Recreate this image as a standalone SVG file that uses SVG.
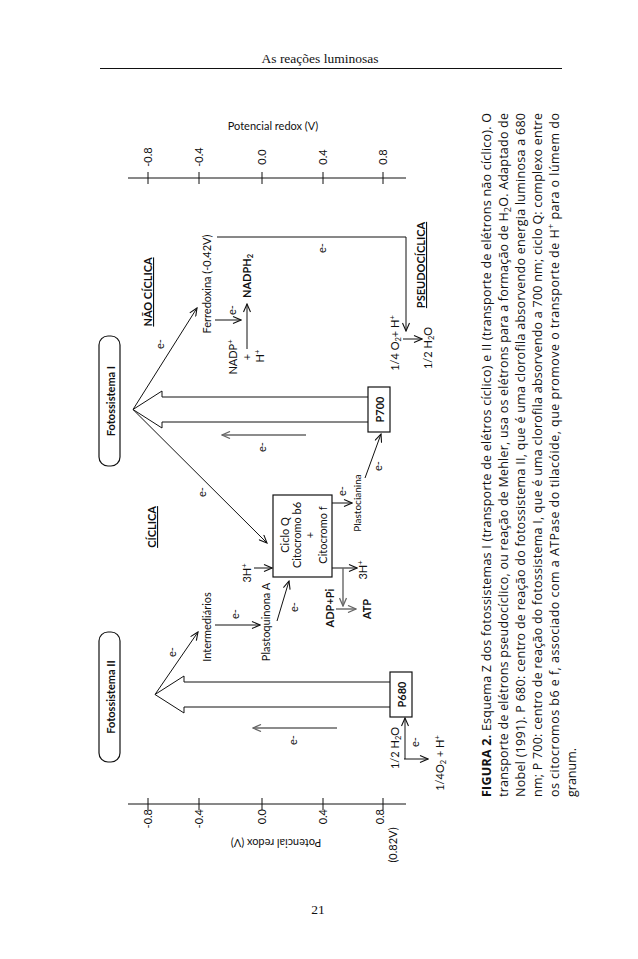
<svg xmlns="http://www.w3.org/2000/svg" width="638" height="959" viewBox="0 0 638 959">
<defs>
<marker id="ah" markerUnits="userSpaceOnUse" markerWidth="10" markerHeight="8" refX="9" refY="4" orient="auto">
<path d="M1,0.5 L9,4 L1,7.5" fill="none" stroke="#111" stroke-width="1.1"/>
</marker>
<marker id="ahg" markerUnits="userSpaceOnUse" markerWidth="10" markerHeight="8" refX="9" refY="4" orient="auto">
<path d="M1,0.5 L9,4 L1,7.5" fill="none" stroke="#666" stroke-width="1.3"/>
</marker>
</defs>
<style>
.t{font-family:Lato,"Open Sans","Liberation Sans",sans-serif;font-size:11px;fill:#111}
.b{font-weight:bold}
.u{text-decoration:underline}
.ln{stroke:#111;stroke-width:1;fill:none}
.g{stroke:#666;stroke-width:1.4;fill:none}
.box{fill:#fff;stroke:#111;stroke-width:1.2}
.cap{font-family:"Open Sans",Lato,"Liberation Sans",sans-serif;font-size:12.5px;fill:#111}
.serif{font-family:"Liberation Serif",serif;font-size:13.5px;fill:#111}
.sm{font-size:7.5px}
</style>
<rect width="638" height="959" fill="#fff"/>

<g id="header">
<text class="serif" x="320" y="63" text-anchor="middle">As reações luminosas</text>
<line x1="100" y1="68.5" x2="562" y2="68.5" stroke="#111" stroke-width="1.2"/>
<text class="serif" x="318" y="914" text-anchor="middle">21</text>
</g>

<g id="axis-top">
<line class="ln" x1="128" y1="178" x2="406" y2="178"/>
<path class="ln" d="M148,172V184M199,172V184M262,172V184M323,172V184M383,172V184"/>
<g class="t" text-anchor="middle">
<text transform="translate(151.5,157) rotate(-90)">-0.8</text>
<text transform="translate(202.5,157) rotate(-90)">-0.4</text>
<text transform="translate(265.5,157) rotate(-90)">0.0</text>
<text transform="translate(326.5,157) rotate(-90)">0.4</text>
<text transform="translate(386.5,157) rotate(-90)">0.8</text>
<text x="273" y="130">Potencial redox (V)</text>
</g>
</g>

<g id="axis-bottom">
<line class="ln" x1="128" y1="804" x2="406" y2="804"/>
<path class="ln" d="M148,798V810M199,798V810M262,798V810M323,798V810M383,798V810"/>
<g class="t" text-anchor="end">
<text transform="translate(151.5,809) rotate(-90)">-0.8</text>
<text transform="translate(202.5,809) rotate(-90)">-0.4</text>
<text transform="translate(265.5,809) rotate(-90)">0.0</text>
<text transform="translate(326.5,809) rotate(-90)">0.4</text>
<text transform="translate(383.5,809) rotate(-90)">0.8</text>
</g>
<text class="t" text-anchor="middle" transform="translate(397,845) rotate(-90)">(0.82V)</text>
<text class="t" text-anchor="middle" transform="translate(276,839) rotate(180)">Potencial redox (V)</text>
</g>

<g id="labels" class="t" text-anchor="middle">
<text class="b u" transform="translate(152,292) rotate(-90)">NÃO CÍCLICA</text>
<text class="b u" transform="translate(156,527) rotate(-90)">CÍCLICA</text>
<text class="b u" transform="translate(425,265) rotate(-90)">PSEUDOCÍCLICA</text>
</g>

<g id="fotossistema-1">
<rect class="box" x="99" y="336" width="21" height="130" rx="9"/>
<text class="t b" font-size="14" text-anchor="middle" transform="translate(114.5,401) rotate(-90)">Fotossistema I</text>
<path class="ln" d="M368,397 L162,397 L162,391 L133,409.5 L162,428 L162,422 L368,422"/>
</g>
<g id="p700">
<rect class="box" x="368" y="387" width="22" height="45"/>
<text class="t b" font-size="13.5" text-anchor="middle" transform="translate(383.7,409.5) rotate(-90)">P700</text>
</g>

<g id="fotossistema-2">
<rect class="box" x="99" y="632" width="21" height="130" rx="9"/>
<text class="t b" font-size="14" text-anchor="middle" transform="translate(114.5,697) rotate(-90)">Fotossistema II</text>
<path class="ln" d="M390,682 L184,682 L184,676 L155,694.5 L184,713 L184,707 L390,707"/>
</g>
<g id="p680">
<rect class="box" x="390" y="672" width="22" height="45"/>
<text class="t b" font-size="13.5" text-anchor="middle" transform="translate(405.7,694.5) rotate(-90)">P680</text>
</g>

<g id="ciclo-q">
<rect class="box" x="273" y="495" width="59" height="82"/>
<g class="t" text-anchor="middle">
<text transform="translate(288.8,535) rotate(-90)">Ciclo Q</text>
<text transform="translate(300.8,535) rotate(-90)">Citocromo b6</text>
<text transform="translate(313.8,535) rotate(-90)">+</text>
<text transform="translate(326.8,535) rotate(-90)">Citocromo f</text>
</g>
</g>

<g id="ferredoxina" class="t" text-anchor="middle">
<text transform="translate(210.8,284) rotate(-90)">Ferredoxina (-0.42V)</text>
</g>
<g id="nadp" class="t" text-anchor="middle">
<text transform="translate(236.8,357) rotate(-90)">NADP<tspan class="sm" dy="-4">+</tspan></text>
<text transform="translate(250.8,357) rotate(-90)">+</text>
<text transform="translate(263.8,356) rotate(-90)">H<tspan class="sm" dy="-4">+</tspan></text>
<text class="b" transform="translate(251.3,276) rotate(-90)">NADPH<tspan class="sm" dy="2">2</tspan></text>
</g>
<g id="oxigenio" class="t" text-anchor="middle">
<text transform="translate(399,343) rotate(-90)">1/4 O<tspan class="sm" dy="2">2</tspan><tspan dy="-2">+ H</tspan><tspan class="sm" dy="-4">+</tspan></text>
<text transform="translate(432,348) rotate(-90)">1/2 H<tspan class="sm" dy="2">2</tspan><tspan dy="-2">O</tspan></text>
</g>
<g id="intermediarios" class="t" text-anchor="middle">
<text transform="translate(210.8,627) rotate(-90)">Intermediários</text>
</g>
<g id="plastoquinona" class="t" text-anchor="middle">
<text transform="translate(269.8,622) rotate(-90)">Plastoquinona A</text>
</g>
<g id="plastocianina" class="t" text-anchor="middle">
<text font-size="10" transform="translate(361,503) rotate(-90)">Plastocianina</text>
</g>
<g id="protons" class="t" text-anchor="middle">
<text transform="translate(250.8,573) rotate(-90)">3H<tspan class="sm" dy="-4">+</tspan></text>
<text transform="translate(366.5,570) rotate(-90)">3H<tspan class="sm" dy="-4">+</tspan></text>
</g>
<g id="atp" class="t b" text-anchor="middle">
<text transform="translate(333.8,608) rotate(-90)">ADP+Pi</text>
<text transform="translate(371,609) rotate(-90)">ATP</text>
</g>
<g id="agua" class="t" text-anchor="middle">
<text transform="translate(398.8,748) rotate(-90)">1/2 H<tspan class="sm" dy="2">2</tspan><tspan dy="-2">O</tspan></text>
<text transform="translate(443.8,763) rotate(-90)">1/4O<tspan class="sm" dy="2">2</tspan><tspan dy="-2"> + H</tspan><tspan class="sm" dy="-4">+</tspan></text>
</g>

<g id="connectors">
<line class="ln" x1="133" y1="409.5" x2="197" y2="308" marker-end="url(#ah)"/>
<line class="ln" x1="133" y1="409.5" x2="267" y2="543" marker-end="url(#ah)"/>
<line class="g" x1="306" y1="435" x2="222" y2="435" marker-end="url(#ahg)"/>
<polyline class="ln" points="217,237 406,237 406,331" marker-end="url(#ah)"/>
<line class="ln" x1="403" y1="339" x2="422" y2="339" marker-end="url(#ah)"/>
<line class="ln" x1="215" y1="320" x2="241" y2="320" marker-end="url(#ah)"/>
<line class="ln" x1="247" y1="349" x2="247" y2="304" marker-end="url(#ah)"/>
<line class="ln" x1="155" y1="694.5" x2="198" y2="632" marker-end="url(#ah)"/>
<line class="g" x1="337" y1="728" x2="253" y2="728" marker-end="url(#ahg)"/>
<line class="ln" x1="215" y1="625" x2="260" y2="625" marker-end="url(#ah)"/>
<line class="ln" x1="277" y1="621" x2="289" y2="581" marker-end="url(#ah)"/>
<line class="ln" x1="254" y1="568" x2="272" y2="568" marker-end="url(#ah)"/>
<line class="ln" x1="332" y1="568" x2="357" y2="568" marker-end="url(#ah)"/>
<line class="g" x1="343" y1="568" x2="343" y2="606" marker-end="url(#ahg)"/>
<line class="g" x1="336" y1="609" x2="356" y2="609" marker-end="url(#ahg)"/>
<line class="ln" x1="332" y1="503" x2="352" y2="503" marker-end="url(#ah)"/>
<line class="ln" x1="365" y1="478" x2="381" y2="434" marker-end="url(#ah)"/>
<line class="ln" x1="405" y1="759" x2="405" y2="718" marker-end="url(#ah)"/>
<line class="ln" x1="404" y1="759" x2="428" y2="759" marker-end="url(#ah)"/>
<g class="t" text-anchor="middle">
<text transform="translate(163.8,344) rotate(-90)">e-</text>
<text transform="translate(205.8,492) rotate(-90)">e-</text>
<text transform="translate(265.8,447) rotate(-90)">e-</text>
<text transform="translate(325.8,248) rotate(-90)">e-</text>
<text transform="translate(235.8,310) rotate(-90)">e-</text>
<text transform="translate(175.8,652) rotate(-90)">e-</text>
<text transform="translate(296.8,740) rotate(-90)">e-</text>
<text transform="translate(238.8,614) rotate(-90)">e-</text>
<text transform="translate(297.8,607) rotate(-90)">e-</text>
<text transform="translate(345.8,491) rotate(-90)">e-</text>
<text transform="translate(381.8,466) rotate(-90)">e-</text>
<text transform="translate(418.8,742) rotate(-90)">e-</text>
</g>
</g>

<g id="caption" class="cap">
<text transform="translate(491,797) rotate(-90)" textLength="684" lengthAdjust="spacing"><tspan font-weight="bold">FIGURA 2.</tspan> Esquema Z dos fotossistemas I (transporte de elétros cíclico) e II (transporte de elétrons não cíclico). O</text>
<text transform="translate(508,797) rotate(-90)" textLength="684" lengthAdjust="spacing">transporte de elétrons pseudocíclico, ou reação de Mehler, usa os elétrons para a formação de H<tspan font-size="9" dy="3">2</tspan><tspan dy="-3">O. Adaptado de</tspan></text>
<text transform="translate(525,797) rotate(-90)" textLength="684" lengthAdjust="spacing">Nobel (1991). P 680: centro de reação do fotossistema II, que é uma clorofila absorvendo energia luminosa a 680</text>
<text transform="translate(542,797) rotate(-90)" textLength="684" lengthAdjust="spacing">nm; P 700: centro de reação do fotossistema I, que é uma clorofila absorvendo a 700 nm; ciclo Q: complexo entre</text>
<text transform="translate(559,797) rotate(-90)" textLength="684" lengthAdjust="spacing">os citocromos b6 e f, associado com a ATPase do tilacóide, que promove o transporte de H<tspan font-size="9" dy="-5">+</tspan><tspan dy="5"> para o lúmem do</tspan></text>
<text transform="translate(576,797) rotate(-90)">granum.</text>
</g>
</svg>
